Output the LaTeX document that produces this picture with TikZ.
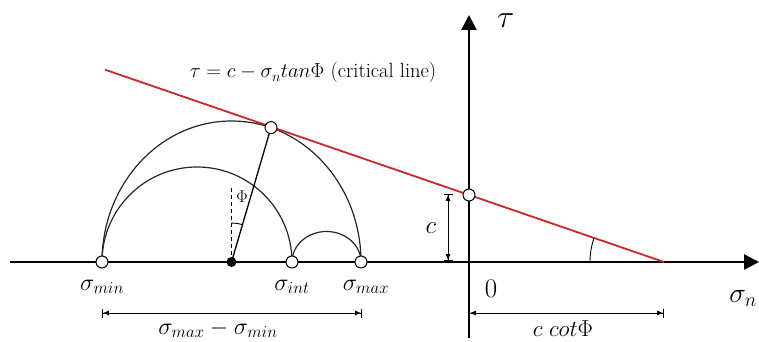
\documentclass[tikz,border=0pt]{standalone}
\usepackage{fix-cm}
\usetikzlibrary{arrows.meta,calc}
\definecolor{critred}{RGB}{205,38,38}
\begin{document}
\begin{tikzpicture}[x=1pt,y=-1pt,
  axis/.style={line width=2.7pt, -{Triangle[length=15pt,width=15pt]}},
  arcline/.style={line width=1.2pt, black!85},
  crit/.style={line width=1.8pt, critred},
  thinline/.style={line width=0.9pt},
  dimline/.style={line width=0.8pt, arrows={Bar[width=9pt]Latex[length=6pt,width=5pt]-Latex[length=6pt,width=5pt]Bar[width=9pt]}},
  opt/.style={circle, draw, line width=1pt, fill=white, inner sep=0pt, minimum size=12pt},
  dot/.style={circle, fill=black, inner sep=0pt, minimum size=10pt},
  lbl/.style={inner sep=0pt, anchor=base, font=\fontsize{24}{28}\selectfont},
]
\useasboundingbox (0,0) rectangle (759,342);
% coordinates
\coordinate (xs) at (10,262);
\coordinate (xe) at (759,262);
\coordinate (ys) at (469,338);
\coordinate (ye) at (469,15);
\coordinate (smin) at (102,262);
\coordinate (ctr) at (231.5,262);
\coordinate (sint) at (292,262);
\coordinate (smax) at (361,262);
\coordinate (T) at (271,127.6);
\coordinate (I) at (469,195);
\coordinate (A) at (664,262);
\coordinate (rs) at (105,69.7);
\coordinate (dtop) at (231.5,188);
\coordinate (d1a) at (102,313);
\coordinate (d1b) at (362,313);
\coordinate (d2a) at (469,313);
\coordinate (d2b) at (664,313);
\coordinate (d3a) at (448,194);
\coordinate (d3b) at (448,261);
% axes
\draw[axis] (xs) -- (xe);
\draw[axis] (ys) -- (ye);
% Mohr circles
\draw[arcline] (smin) arc[start angle=180,end angle=0,x radius=129.5pt,y radius=141pt];
\draw[arcline] (smin) arc[start angle=180,end angle=0,radius=95pt];
\draw[arcline] (sint) arc[start angle=180,end angle=0,x radius=34.5pt,y radius=30.5pt];
% critical line
\draw[crit] (rs) -- (A);
% radius and angle
\draw[line width=1.3pt] (ctr) -- (T);
\draw[thinline, dash pattern=on 4pt off 3pt] (ctr) -- (dtop);
\draw[thinline] ([shift={(90:39pt)}]ctr) arc[start angle=90,end angle=73.6,radius=39pt];
\draw[thinline] ([shift={(180:74pt)}]A) arc[start angle=180,end angle=161,radius=74pt];
% dimensions
\draw[dimline] (d1a) -- (d1b);
\draw[dimline] (d2a) -- (d2b);
\draw[dimline] (d3a) -- (d3b);
% markers
\node[opt] (nsmin) at (smin) {};
\node[opt] (nsint) at (sint) {};
\node[opt] (nsmax) at (smax) {};
\node[opt] (nT) at (T) {};
\node[opt] (nI) at (I) {};
\node[dot] (nctr) at (ctr) {};
% labels
\node[lbl] (lmin) at (102,290) {$\sigma_{min}$};
\node[lbl] (lint) at (292,290) {$\sigma_{int}$};
\node[lbl] (lmax) at (366,290) {$\sigma_{max}$};
\node[lbl] (ldiff) at (218,334) {$\sigma_{max}-\sigma_{min}$};
\node[lbl, font=\fontsize{25}{28}\selectfont] (lc) at (431,233) {$c$};
\node[lbl, font=\fontsize{27}{30}\selectfont] (lzero) at (491,297) {0};
\node[lbl, anchor=base west, font=\fontsize{32}{36}\selectfont] (ltau) at (497,28) {$\tau$};
\node[lbl, anchor=base east, font=\fontsize{28}{32}\selectfont] (lsn) at (757,302) {$\sigma_n$};
\node[lbl, font=\fontsize{23}{26}\selectfont] (lcot) at (563,336) {$c\;cot\Phi$};
\node[lbl, font=\fontsize{20.5}{24}\selectfont] (lcrit) at (313,78) {$\tau = c - \sigma_n tan\Phi$ (critical line)};
\node[inner sep=0pt, font=\fontsize{17}{20}\selectfont] (lphi) at (242,197) {$\Phi$};
\end{tikzpicture}
\end{document}
